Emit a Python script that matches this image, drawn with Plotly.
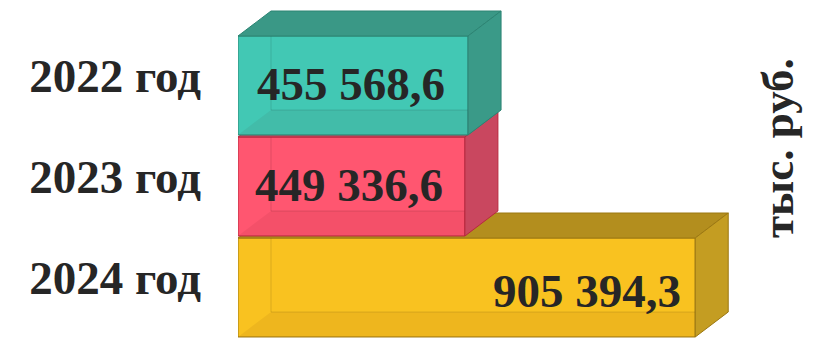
import plotly.graph_objects as go

# Data (bottom to top)
categories = ["2024 год", "2023 год", "2022 год"]
values = [905394.3, 449336.6, 455568.6]
unit_label = "тыс. руб."

# Box styling per bar
front_colors = ["#F9C220", "#FF5670", "#42C8B4"]
top_colors = ["#B38E1E", "#C34A62", "#3A9886"]
side_colors = ["#C49D22", "#C9475F", "#3A9A88"]
edge_colors = ["#9C7812", "#B8283F", "#2C8473"]
label_align = ["end", "middle", "middle"]
label_yshift = [-3, 2, 2]

FONT = "Liberation Serif"
TEXT_COLOR = "#262626"

W, H = 818, 341
M_L, M_R, M_T, M_B = 238, 75, 0, 0
X_RANGE = [0, 1_000_000]
Y_RANGE = [-0.5297, 2.8465]
BAR_W = 0.98
DEPTH_PX = (33, 25)  # oblique depth of the boxes, in pixels

plot_w = W - M_L - M_R
plot_h = H - M_T - M_B
ddx = DEPTH_PX[0] * (X_RANGE[1] - X_RANGE[0]) / plot_w
ddy = DEPTH_PX[1] * (Y_RANGE[1] - Y_RANGE[0]) / plot_h


def fmt(v):
    return f"{v:,.1f}".replace(",", " ").replace(".", ",")


def poly(xs, ys, fill, line, z, width=1):
    return go.Scatter(
        x=xs + [xs[0]], y=ys + [ys[0]], mode="lines", fill="toself",
        fillcolor=fill, line=dict(color=line, width=width),
        hoverinfo="skip", showlegend=False, zorder=z,
    )


def seg(xs, ys, color, z):
    return go.Scatter(
        x=xs, y=ys, mode="lines", line=dict(color=color, width=1),
        hoverinfo="skip", showlegend=False, zorder=z,
    )


fig = go.Figure()
positions = list(range(len(categories)))

for i, (pos, v) in enumerate(zip(positions, values)):
    lo, hi = pos - BAR_W / 2, pos + BAR_W / 2
    z0 = 3 * i
    # front face
    fig.add_trace(go.Bar(
        x=[v], y=[pos], orientation="h", width=BAR_W,
        marker=dict(color=front_colors[i], line=dict(color=edge_colors[i], width=1)),
        hoverinfo="skip", showlegend=False, zorder=z0,
    ))
    # floor seen through the front face, and hidden back edges
    fig.add_trace(poly([0, v, v + ddx, ddx], [lo, lo, lo + ddy, lo + ddy],
                       "rgba(60,0,0,0.06)", "rgba(0,0,0,0)", z0 + 1, width=0))
    fig.add_trace(seg([ddx, ddx], [lo + ddy, hi + ddy], "rgba(0,0,0,0.12)", z0 + 1))
    fig.add_trace(seg([ddx, v + ddx], [lo + ddy, lo + ddy], "rgba(0,0,0,0.12)", z0 + 1))
    # top and right faces
    fig.add_trace(poly([0, v, v + ddx, ddx], [hi, hi, hi + ddy, hi + ddy],
                       top_colors[i], edge_colors[i], z0 + 2))
    fig.add_trace(poly([v, v + ddx, v + ddx, v], [lo, lo + ddy, hi + ddy, hi],
                       side_colors[i], edge_colors[i], z0 + 2))

    # value label on the front face
    end = label_align[i] == "end"
    fig.add_annotation(
        text=fmt(v), x=v if end else v / 2, y=pos, xref="x", yref="y",
        xanchor="right" if end else "center", yanchor="middle",
        xshift=-12 if end else -2, yshift=label_yshift[i], showarrow=False,
        font=dict(family=FONT, size=47, color=TEXT_COLOR, weight="bold"),
    )

fig.add_annotation(
    text=unit_label, textangle=-90, showarrow=False,
    xref="paper", yref="paper",
    x=(778 - M_L) / plot_w, y=1 - (148 - M_T) / plot_h,
    xanchor="center", yanchor="middle",
    font=dict(family=FONT, size=45, color=TEXT_COLOR, weight="bold"),
)

fig.update_layout(
    template="none",
    width=W, height=H,
    margin=dict(l=M_L, r=M_R, t=M_T, b=M_B, pad=0),
    paper_bgcolor="white", plot_bgcolor="white",
    barmode="overlay",
    xaxis=dict(range=X_RANGE, visible=False, fixedrange=True),
    yaxis=dict(
        range=Y_RANGE, tickvals=positions, ticktext=categories,
        showgrid=False, zeroline=False, showline=False,
        ticks="", ticklabelstandoff=36, ticklabelshift=-10, automargin=False,
        tickfont=dict(family=FONT, size=47, color=TEXT_COLOR, weight="bold"),
    ),
    showlegend=False,
)

fig.write_html("out.html")
